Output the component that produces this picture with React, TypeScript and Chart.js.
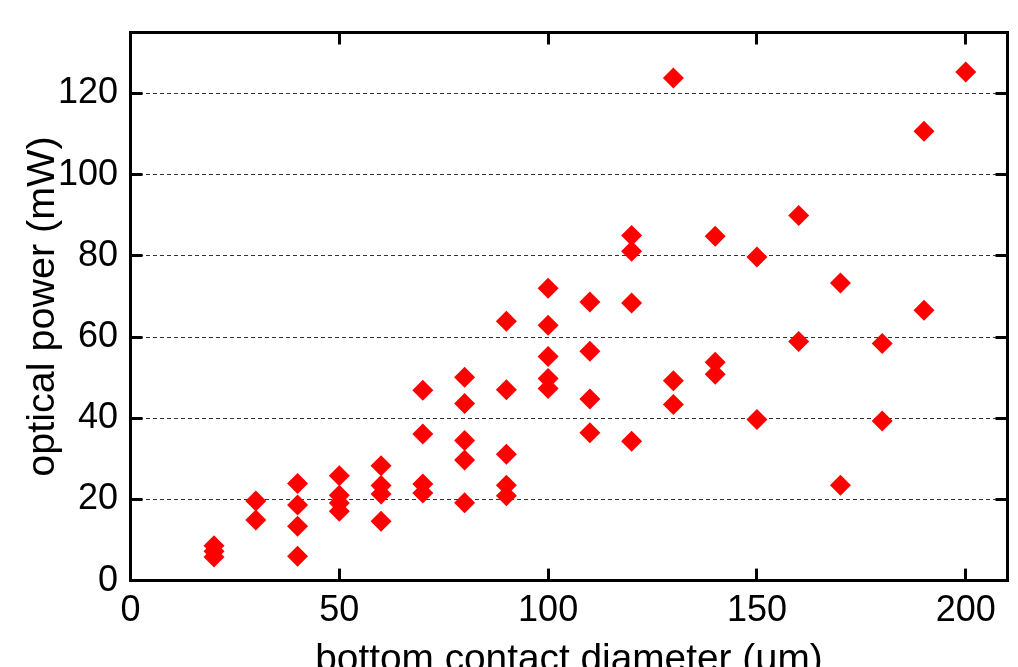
import React, { useEffect, useRef } from "react";
import { Chart, registerables } from "chart.js";

Chart.register(...registerables);

// ---- data ----
const diameters = [
  20, 20, 20,
  30, 30,
  40, 40, 40, 40,
  50, 50, 50, 50,
  60, 60, 60, 60,
  70, 70, 70, 70,
  80, 80, 80, 80, 80,
  90, 90, 90, 90, 90,
  100, 100, 100, 100, 100,
  110, 110, 110, 110,
  120, 120, 120, 120,
  130, 130, 130,
  140, 140, 140,
  150, 150,
  160, 160,
  170, 170,
  180, 180,
  190, 190,
  200,
];
const powers = [
  8.6, 7.2, 5.8,
  19.6, 14.9,
  23.9, 18.6, 13.4, 6.0,
  25.8, 21.0, 19.1, 17.1,
  28.3, 23.4, 21.3, 14.6,
  46.9, 36.1, 23.8, 21.6,
  50.1, 43.6, 34.5, 29.7, 19.2,
  63.9, 47.0, 31.1, 23.5, 20.9,
  72.0, 62.9, 55.2, 49.8, 47.3,
  68.6, 56.5, 44.7, 36.4,
  85.0, 81.1, 68.4, 34.3,
  123.8, 49.2, 43.4,
  84.8, 53.8, 50.8,
  79.7, 39.7,
  89.9, 58.9,
  73.3, 23.5,
  58.4, 39.3,
  110.7, 66.6,
  125.3,
];
const xTickValues = [0, 50, 100, 150, 200];
const yTickValues = [0, 20, 40, 60, 80, 100, 120];
const xRange = [0, 210];
const yRange = [0, 135];
const xTitle = "bottom contact diameter (μm)";
const yTitle = "optical power (mW)";

const FONT = "'Liberation Sans', Arial, Helvetica, sans-serif";

export default function App() {
  const ref = useRef<HTMLCanvasElement>(null);

  useEffect(() => {
    const canvas = ref.current;
    if (!canvas) return;
    const setX = (s: any) => {
      s.ticks = xTickValues.map((v) => ({ value: v }));
    };
    const setY = (s: any) => {
      s.ticks = yTickValues.map((v) => ({ value: v }));
    };
    const tickGrid = {
      drawOnChartArea: false,
      drawTicks: true,
      tickLength: -12,
      tickWidth: 3,
      tickColor: "#000",
    };
    const border = { display: true, width: 3, color: "#000" };

    const chart = new Chart(canvas, {
      type: "scatter",
      data: {
        datasets: [
          {
            data: diameters.map((x, i) => ({ x, y: powers[i] })),
            pointStyle: "rectRot",
            pointRadius: 10.5,
            pointHoverRadius: 10.5,
            backgroundColor: "#ff0000",
            borderColor: "#ff0000",
            borderWidth: 0,
          },
        ],
      },
      options: {
        responsive: false,
        animation: false,
        devicePixelRatio: 1,
        layout: { padding: 0 },
        plugins: {
          legend: { display: false },
          tooltip: { enabled: false },
        },
        scales: {
          x: {
            type: "linear",
            position: "bottom",
            min: xRange[0],
            max: xRange[1],
            afterBuildTicks: setX,
            afterFit: (s: any) => {
              s.height = 119.4;
              s.paddingLeft = 0;
              s.paddingRight = 0;
            },
            grid: tickGrid,
            border,
            ticks: {
              color: "#000",
              font: { family: FONT, size: 36 },
              padding: 21,
              maxRotation: 0,
              autoSkip: false,
            },
            title: {
              display: true,
              text: xTitle,
              color: "#000",
              font: { family: FONT, size: 38.8 },
              padding: { top: 0, bottom: 16 },
            },
          },
          x2: {
            type: "linear",
            position: "top",
            min: xRange[0],
            max: xRange[1],
            afterBuildTicks: setX,
            afterFit: (s: any) => {
              s.height = 32.5;
              s.paddingLeft = 0;
              s.paddingRight = 0;
            },
            grid: tickGrid,
            border,
            ticks: { display: false },
          },
          y: {
            type: "linear",
            position: "left",
            min: yRange[0],
            max: yRange[1],
            afterBuildTicks: setY,
            afterFit: (s: any) => {
              s.width = 130.5;
              s.paddingTop = 0;
              s.paddingBottom = 0;
            },
            grid: {
              drawOnChartArea: true,
              drawTicks: true,
              color: "#333",
              lineWidth: 1,
              tickLength: -12,
              tickWidth: 3,
              tickColor: "#000",
            },
            border: { display: true, width: 3, color: "#000", dash: [4, 3] },
            ticks: {
              color: "#000",
              font: { family: FONT, size: 36 },
              padding: 24.5,
              autoSkip: false,
            },
            title: {
              display: true,
              text: yTitle,
              color: "#000",
              font: { family: FONT, size: 39.5 },
              padding: { top: 19, bottom: 0 },
            },
          },
          y2: {
            type: "linear",
            position: "right",
            min: yRange[0],
            max: yRange[1],
            afterBuildTicks: setY,
            afterFit: (s: any) => {
              s.width = 10;
              s.paddingTop = 0;
              s.paddingBottom = 0;
            },
            grid: tickGrid,
            border,
            ticks: { display: false },
          },
        },
      } as any,
    });
    return () => chart.destroy();
  }, []);

  return (
    <div
      style={{
        position: "fixed",
        left: 0,
        top: 0,
        width: 1018,
        height: 667,
        overflow: "hidden",
        background: "#fff",
      }}
    >
      <canvas ref={ref} width={1018} height={700} style={{ display: "block" }} />
    </div>
  );
}
